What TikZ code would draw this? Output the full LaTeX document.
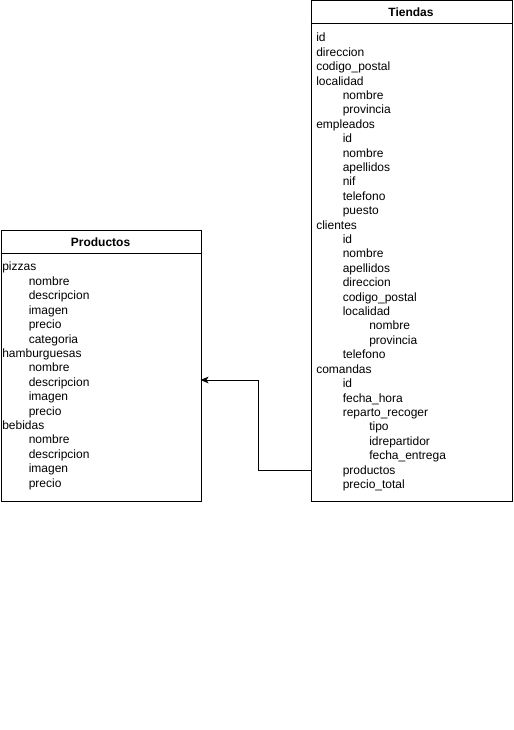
\documentclass[tikz,border=0pt]{standalone}
\usepackage{fontspec}
\setmainfont{Liberation Sans}
\usetikzlibrary{arrows.meta}
\begin{document}
\begin{tikzpicture}[x=0.75pt,y=-0.75pt,
  every node/.style={font=\fontsize{9}{10.8}\selectfont},
  entity/.style={draw,line width=0.75pt,rectangle,anchor=north west,inner sep=0pt},
  title/.style={font=\fontsize{9}{10.8}\selectfont\bfseries,inner sep=0pt,anchor=base},
  field/.style={inner sep=0pt,anchor=base west},
  link/.style={line width=0.75pt,-{Stealth[length=6pt,width=5pt,inset=1.5pt]}}]
\useasboundingbox (0,0) rectangle (513,730);

% Tiendas entity
\node[entity,minimum width=201*0.75pt,minimum height=500*0.75pt] (tiendas) at (310.5,0.5) {};
\draw[line width=0.75pt] (310.5,23.5) -- (511.5,23.5);
\node[title] (tiendasT) at (411,16.5) {Tiendas};
\foreach \txt/\lvl [count=\i from 0] in {
  id/0, direccion/0, codigo\_postal/0, localidad/0, nombre/1, provincia/1,
  empleados/0, id/1, nombre/1, apellidos/1, nif/1, telefono/1, puesto/1,
  clientes/0, id/1, nombre/1, apellidos/1, direccion/1, codigo\_postal/1,
  localidad/1, nombre/2, provincia/2, telefono/1,
  comandas/0, id/1, fecha\_hora/1, reparto\_recoger/1, tipo/2, idrepartidor/2,
  fecha\_entrega/2, productos/1, precio\_total/1}
  \node[field] (t\i) at (316+26.5*\lvl, 42+14.4*\i) {\txt};

% Productos entity
\node[entity,minimum width=200*0.75pt,minimum height=270*0.75pt] (productos) at (0.5,230.5) {};
\draw[line width=0.75pt] (0.5,253.5) -- (200.5,253.5);
\node[title] (productosT) at (100.5,246.5) {Productos};
\foreach \txt/\lvl [count=\i from 0] in {
  pizzas/0, nombre/1, descripcion/1, imagen/1, precio/1, categoria/1,
  hamburguesas/0, nombre/1, descripcion/1, imagen/1, precio/1,
  bebidas/0, nombre/1, descripcion/1, imagen/1, precio/1}
  \node[field] (p\i) at (2+26.5*\lvl, 271+14.4*\i) {\txt};

% reference from comandas.productos to Productos
\coordinate (src) at (310.5,470);
\coordinate (bend) at (258,380);
\coordinate (dst) at (200.5,380);
\draw[link] (src) -| (bend) -- (dst);
\end{tikzpicture}
\end{document}
